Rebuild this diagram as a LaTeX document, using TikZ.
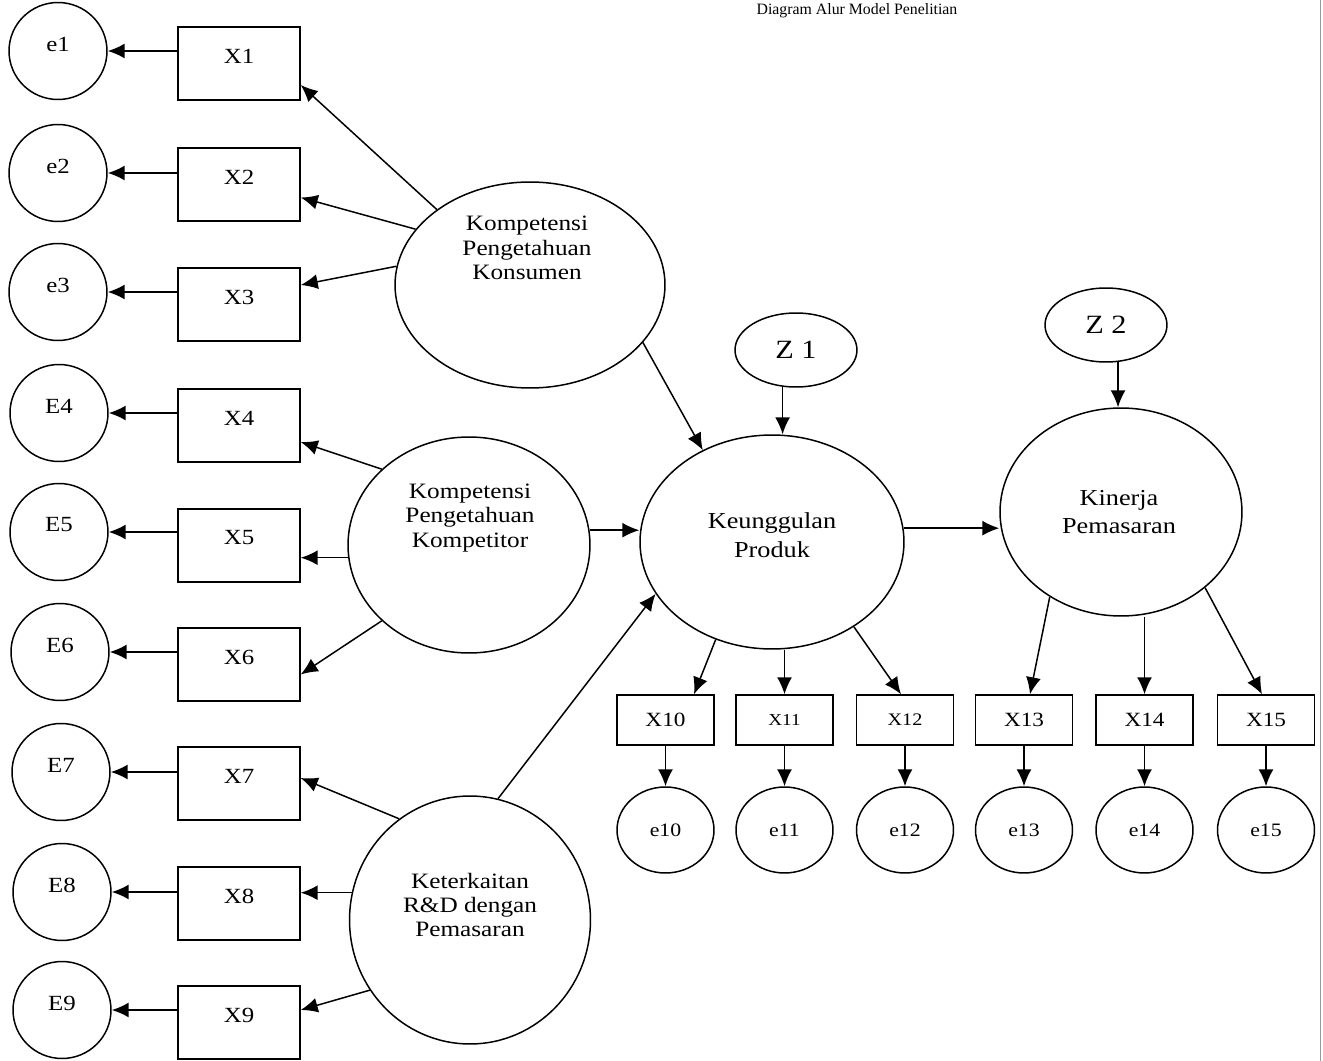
\documentclass[tikz,border=0pt]{standalone}
\usepackage{fontspec}
\setmainfont[FakeStretch=1.15]{Liberation Serif}
\newfontfamily\titlefont{Liberation Serif}
\usetikzlibrary{arrows.meta,calc,shapes.geometric}
\begin{document}
\begin{tikzpicture}[x=0.02cm,y=-0.02cm,
  line width=0.85pt,
  arr/.style={-{Latex[length=3.4mm,width=3mm]}},
  errc/.style={draw,ellipse,inner sep=0pt,minimum width=1.96cm,minimum height=1.94cm},
  errc2/.style={draw,ellipse,inner sep=0pt,minimum width=1.94cm,minimum height=1.72cm,font=\fontsize{10.8}{12}\selectfont},
  obsbox/.style={draw,rectangle,inner sep=0pt,minimum width=2.44cm,minimum height=1.46cm},
  obsbox2/.style={draw,rectangle,inner sep=0pt,minimum width=1.94cm,minimum height=1.0cm},
  lbl/.style={inner sep=0pt,font=\fontsize{12.3}{14}\selectfont},
  lat/.style={draw,ellipse,inner sep=0pt},
  lattext/.style={inner sep=0pt,align=center,font=\fontsize{12.5}{13.9}\selectfont},
  lattext2/.style={inner sep=0pt,align=center,font=\fontsize{13}{16.4}\selectfont},
  zstyle/.style={draw,ellipse,inner sep=0pt,minimum width=2.44cm,minimum height=1.48cm,font=\fontsize{15}{15}\selectfont}
]
\useasboundingbox (0,0) rectangle (1323,1061);

% title
\node[font=\titlefont\fontsize{9}{10}\selectfont, anchor=base, inner sep=0pt] (title) at (857,15) {Diagram Alur Model Penelitian};

% left indicator rows
\foreach \i/\el/\ex/\ay/\bt/\cx in {1/e1/X1/51/27/58, 2/e2/X2/173/148/58, 3/e3/X3/292/268/58, 4/E4/X4/413/389/59, 5/E5/X5/532/509/59, 6/E6/X6/652/628/60, 7/E7/X7/772/747/61, 8/E8/X8/892/867/62, 9/E9/X9/1010/986/62}{
  \node[errc] (e\i) at (\cx,\ay) {};
  \node[lbl] (e\i lab) at (\cx,\ay-7) {\el};
  \node[obsbox] (x\i) at (239,\bt+36.5) {};
  \node[lbl] (x\i lab) at (239,\bt+29) {\ex};
  \draw[arr] (x\i.west |- e\i.center) -- (e\i.east);
}

% latent variables
\node[lat, minimum width=5.4cm, minimum height=4.12cm] (kpk) at (530,285) {};
\node[lattext] (kpklab) at (527,248) {Kompetensi\\Pengetahuan\\Konsumen};
\node[lat, minimum width=4.84cm, minimum height=4.32cm] (kpkomp) at (469,545) {};
\node[lattext] (kpkomplab) at (470,518) {Kompetensi\\Pengetahuan\\Kompetitor};
\node[lat, minimum width=4.82cm, minimum height=4.96cm] (krd) at (470,920) {};
\node[lattext] (krdlab) at (470,905) {Keterkaitan\\R\&D dengan\\Pemasaran};
\node[lat, minimum width=5.28cm, minimum height=4.28cm] (keu) at (772,542) {};
\node[lattext2] (keulab) at (772,535) {Keunggulan\\Produk};
\node[lat, minimum width=4.84cm, minimum height=4.16cm] (kin) at (1121,512) {};
\node[lattext2] (kinlab) at (1119,512) {Kinerja\\Pemasaran};
\node[zstyle] (z1) at (796,350) {Z 1};
\node[zstyle] (z2) at (1106,325) {Z 2};

% bottom indicator rows
\foreach \i/\cx/\fs in {10/665.5/11.5, 11/784.5/9.5, 12/905/10, 13/1024/11.5, 14/1144.5/11.5, 15/1266/11.5}{
  \node[obsbox2, font=\fontsize{\fs}{\fs}\selectfont] (x\i) at (\cx,720) {X\i};
  \node[errc2] (e\i) at (\cx,830) {e\i};
  \draw[arr] (x\i.south) -- (e\i.north);
}

% connectors
\draw[arr] (kpk.141) -- ($(x1.east)+(0,21.5)$);
\draw[arr] (kpk.154) -- ($(x2.east)+(0,13)$);
\draw[arr] (kpk.172) -- ($(x3.east)+(0,-19.5)$);
\draw[arr] (kpk.-27) -- (keu.127);
\draw[arr] (kpkomp.139) -- ($(x4.east)+(0,16.5)$);
\draw[arr] (kpkomp.186) -- (kpkomp.186 -| x5.east);
\draw[arr] (kpkomp.221) -- ($(x6.east)+(0,10)$);
\draw[arr] (kpkomp.7) -- (kpkomp.7 -| keu.west);
\draw[arr] (krd.125) -- ($(x7.east)+(0,-5.5)$);
\draw[arr] (krd.167) -- (krd.167 -| x8.east);
\draw[arr] (krd.215) -- ($(x9.east)+(0,-12.5)$);
\draw[arr] (krd.77) -- (keu.204);
\draw[arr] (keu.6) -- (keu.6 -| kin.west);
\draw[arr] (z1.250) -- (z1.250 |- keu.north);
\draw[arr] (z2.288) -- (z2.288 |- kin.north);
\draw[arr] (keu.240) -- ($(x10.north)+(28.5,0)$);
\draw[arr] (x11.north |- keu.south) -- (x11.north);
\draw[arr] (keu.314) -- ($(x12.north)+(-4,0)$);
\draw[arr] (kin.230) -- ($(x13.north)+(6,0)$);
\draw[arr] (x14.north |- kin.south) -- (x14.north);
\draw[arr] (kin.318) -- ($(x15.north)+(-4,0)$);

% scan edge on the right
\draw[black!40, line width=0.5pt] (1320,0) -- (1320,1061);
\end{tikzpicture}
\end{document}
